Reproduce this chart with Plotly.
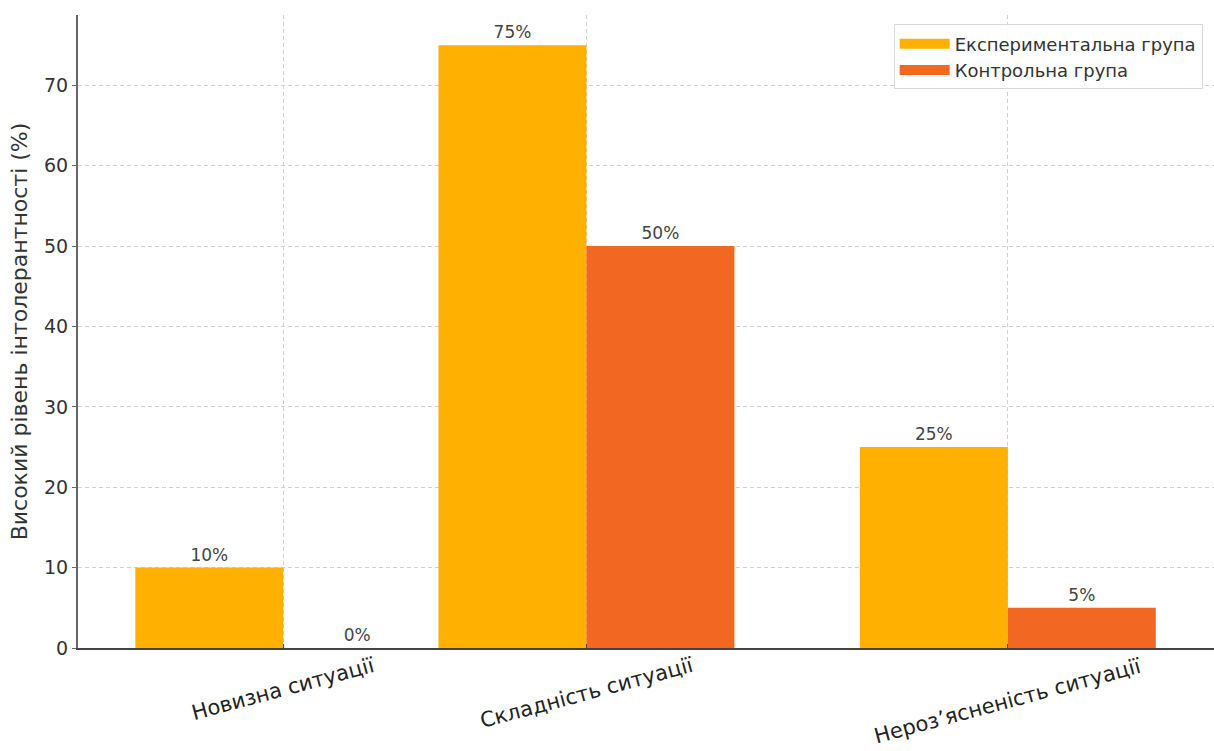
import plotly.graph_objects as go

# ---- data ----
categories = ["Новизна ситуації", "Складність ситуації", "Нероз’ясненість ситуації"]
series_names = ["Експериментальна група", "Контрольна група"]
experimental = [10, 75, 25]
control = [0, 50, 5]
y_ticks = [0, 10, 20, 30, 40, 50, 60, 70]

# ---- layout / style ----
group_pos = [0, 1, 2.39]       # category centres on the x axis (layout)
bar_w = 0.488
colors = ["#FFB000", "#F26822"]
FONT = "DejaVu Sans"

fig = go.Figure()
for vals, name, col, off in [(experimental, series_names[0], colors[0], -bar_w),
                             (control, series_names[1], colors[1], 0)]:
    fig.add_trace(go.Bar(
        x=group_pos, y=vals, name=name, width=bar_w, offset=off,
        marker=dict(color=col, line=dict(width=0)),
        text=[f"{v}%" for v in vals], textposition="outside",
        textfont=dict(family=FONT, size=17, color="#444"),
        cliponaxis=False, showlegend=False,
    ))
# legend entries drawn as wide rectangular swatches
for name, col in zip(series_names, colors):
    fig.add_trace(go.Scatter(x=[None], y=[None], mode="lines", name=name,
                             line=dict(color=col, width=13), showlegend=True))

for p, c in zip(group_pos, categories):
    fig.add_annotation(x=p, y=0, xref="x", yref="paper", text=c, showarrow=False,
                       textangle=-15, xanchor="center", yanchor="top", yshift=-3,
                       font=dict(family=FONT, size=21, color="#222"))

fig.update_layout(
    width=1214, height=751,
    margin=dict(l=78, r=0, t=15, b=103),
    paper_bgcolor="white", plot_bgcolor="white",
    barmode="overlay",
    font=dict(family=FONT, color="#333"),
    legend=dict(x=0.99, y=0.985, xanchor="right", yanchor="top",
                bgcolor="rgba(255,255,255,0.9)", bordercolor="#d8d8d8", borderwidth=1,
                font=dict(family=FONT, size=18, color="#333"),
                itemwidth=50, tracegroupgap=2),
    showlegend=True,
)
fig.update_xaxes(range=[-0.677, 3.07], tickvals=group_pos, ticktext=[""] * len(group_pos),
                 showgrid=True, gridcolor="#d0d0d0", griddash="4px,3px", gridwidth=1,
                 showline=True, linecolor="#444", linewidth=2, ticks="inside", ticklen=4,
                 tickcolor="#444", zeroline=False)
fig.update_yaxes(range=[0, 78.75], tickvals=y_ticks,
                 showgrid=True, gridcolor="#d0d0d0", griddash="4px,3px", gridwidth=1,
                 showline=True, linecolor="#666", linewidth=2, ticks="outside", ticklen=4,
                 tickcolor="#666", zeroline=False,
                 tickfont=dict(family=FONT, size=19, color="#333"),
                 title=dict(text="Високий рівень інтолерантності (%)",
                            font=dict(family=FONT, size=22, color="#333"), standoff=10))

fig.write_html("out.html")
